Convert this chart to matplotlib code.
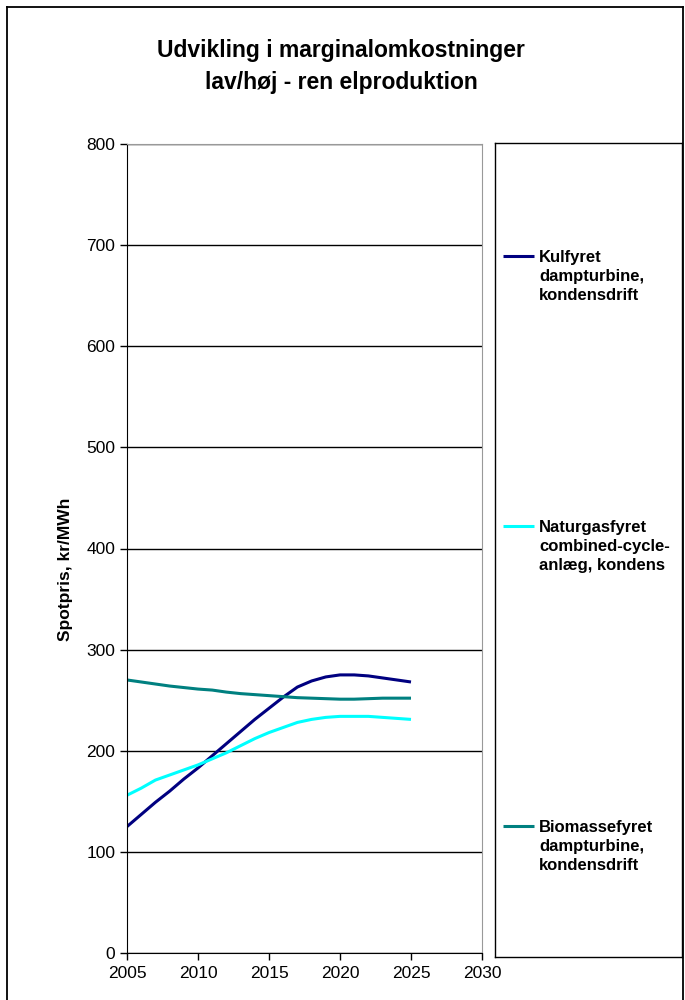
import matplotlib
matplotlib.use("Agg")
import matplotlib.pyplot as plt
from matplotlib.lines import Line2D

plt.rcParams['font.family'] = ['Liberation Sans', 'DejaVu Sans']

years = list(range(2005, 2026))
kulfyret = [125, 137, 149, 160, 172, 183, 195, 207, 219, 231, 242, 253,
            263, 269, 273, 275, 275, 274, 272, 270, 268]
naturgas = [156, 163, 171, 176, 181, 186, 192, 198, 205, 212, 218, 223,
            228, 231, 233, 234, 234, 234, 233, 232, 231]
biomasse = [270, 268, 266, 264, 262.5, 261, 260, 258, 256.5, 255.5, 254.5,
            253.5, 252.5, 252, 251.5, 251, 251, 251.5, 252, 252, 252]

series_names = ["Kulfyret\ndampturbine,\nkondensdrift",
                "Naturgasfyret\ncombined-cycle-\nanlæg, kondens",
                "Biomassefyret\ndampturbine,\nkondensdrift"]
series_colors = ["#000080", "#00FFFF", "#008080"]
x_ticks = [2005, 2010, 2015, 2020, 2025, 2030]
y_ticks = [0, 100, 200, 300, 400, 500, 600, 700, 800]

fig = plt.figure(figsize=(6.85, 10), dpi=100)

# outer frame (open at the bottom)
W, H = 685, 1000
for xs, ys in [([7, 7], [1010, 7]), ([7, 683], [7, 7]), ([683, 683], [7, 1010])]:
    fig.add_artist(Line2D([x / W for x in xs], [1 - y / H for y in ys],
                          color="black", lw=1.3, transform=fig.transFigure))

fig.text(0.498, 0.950, "Udvikling i marginalomkostninger",
         ha="center", va="center", fontsize=16.5, fontweight="bold")
fig.text(0.498, 0.917, "lav/høj - ren elproduktion",
         ha="center", va="center", fontsize=16.5, fontweight="bold")

ax = fig.add_axes([127 / W, 1 - 953 / H, (482 - 127) / W, (953 - 144) / H])
for vals, col in zip([kulfyret, naturgas, biomasse], series_colors):
    ax.plot(years, vals, color=col, lw=2.2, solid_capstyle="butt")

ax.set_xlim(2005, 2030)
ax.set_ylim(0, 800)
ax.set_xticks(x_ticks)
ax.set_yticks(y_ticks)
ax.tick_params(axis="both", direction="out", length=5, width=1,
               labelsize=12.5, colors="black")
ax.tick_params(axis="x", pad=4)
ax.yaxis.grid(True, color="black", lw=1)
ax.set_axisbelow(True)
for side in ["top", "right"]:
    ax.spines[side].set_color("#999999")
for side in ["left", "bottom"]:
    ax.spines[side].set_color("black")
ax.set_ylabel("Spotpris, kr/MWh", fontsize=12.5, fontweight="bold")
ax.yaxis.set_label_coords(-0.152, 0.474)

# legend panel
lax = fig.add_axes([495 / W, 1 - 957 / H, (682 - 495) / W, (957 - 143) / H])
lax.set_xlim(0, 187)
lax.set_ylim(957, 143)
lax.set_xticks([])
lax.set_yticks([])
for s in lax.spines.values():
    s.set_color("black")
    s.set_linewidth(1)
for name, col, ypos in zip(series_names, series_colors, [256, 526, 826]):
    lax.plot([8, 39], [ypos, ypos], color=col, lw=2.2, solid_capstyle="butt")
    lax.text(44, ypos - 6, name, ha="left", va="top", fontsize=12,
             fontweight="bold", linespacing=1.35)

fig.savefig("out.png", dpi=100)
